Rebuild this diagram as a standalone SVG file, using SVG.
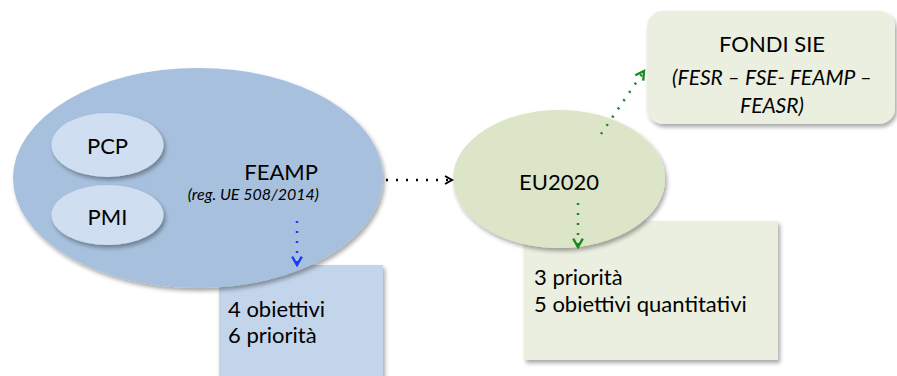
<svg xmlns="http://www.w3.org/2000/svg" width="897" height="376" viewBox="0 0 897 376">
<defs>
<filter id="sh" x="-10%" y="-10%" width="125%" height="130%">
<feGaussianBlur in="SourceAlpha" stdDeviation="2"/>
<feOffset dx="2" dy="3" result="b"/>
<feComponentTransfer><feFuncA type="linear" slope="0.35"/></feComponentTransfer>
<feMerge><feMergeNode/><feMergeNode in="SourceGraphic"/></feMerge>
</filter>
<marker id="ak" viewBox="0 0 10 10" refX="8" refY="5" markerWidth="10" markerHeight="10" markerUnits="userSpaceOnUse" orient="auto"><path d="M1,1 L8,5 L1,9" fill="none" stroke="#000" stroke-width="2"/></marker>
<marker id="ab" viewBox="0 0 10 10" refX="8" refY="5" markerWidth="12" markerHeight="12" markerUnits="userSpaceOnUse" orient="auto"><path d="M1,1 L8,5 L1,9" fill="none" stroke="#1a3cff" stroke-width="2"/></marker>
<marker id="ag" viewBox="0 0 10 10" refX="8" refY="5" markerWidth="12" markerHeight="12" markerUnits="userSpaceOnUse" orient="auto"><path d="M1,1 L8,5 L1,9" fill="none" stroke="#1a8a1a" stroke-width="2"/></marker>
</defs>
<style>
text{font-family:"Lato","Open Sans",sans-serif;fill:#000}
.t22{font-size:22px}
.it{font-style:italic}
.dot{fill:none;stroke-width:2.5;stroke-dasharray:2 8;stroke-linecap:butt}
</style>
<g id="box-feamp"><rect x="219" y="265" width="164" height="115" fill="#c3d5ea" filter="url(#sh)"/>
<text class="t22" x="228" y="317">4 obiettivi</text>
<text class="t22" x="228" y="343">6 priorità</text></g>
<g id="box-eu2020"><rect x="524" y="221" width="254" height="139" fill="#ebefe0" filter="url(#sh)"/>
<text class="t22" x="534" y="285">3 priorità</text>
<text class="t22" x="534" y="312">5 obiettivi quantitativi</text></g>
<g id="feamp"><ellipse cx="198" cy="178" rx="185" ry="110" fill="#a7c0dd" filter="url(#sh)"/>
<text class="t22" x="318" y="180" text-anchor="end">FEAMP</text>
<text class="it" font-size="16" x="319" y="200" text-anchor="end">(reg. UE 508/2014)</text></g>
<g id="pcp"><ellipse cx="107.5" cy="145" rx="56" ry="32" fill="#cfdef0" filter="url(#sh)"/>
<text class="t22" x="107.5" y="154" text-anchor="middle">PCP</text></g>
<g id="pmi"><ellipse cx="107.5" cy="215" rx="56" ry="30" fill="#cfdef0" filter="url(#sh)"/>
<text class="t22" x="107.5" y="225" text-anchor="middle">PMI</text></g>
<g id="eu2020"><ellipse cx="559" cy="179" rx="106" ry="69" fill="#dde5c8" filter="url(#sh)"/>
<text class="t22" x="559" y="190" text-anchor="middle">EU2020</text></g>
<g id="fondi"><rect x="647" y="11" width="248" height="113" rx="16" fill="#ebefe0" filter="url(#sh)"/>
<text class="t22" x="772" y="52" text-anchor="middle">FONDI SIE</text>
<text class="it" font-size="21" x="772" y="85" text-anchor="middle">(FESR – FSE- FEAMP –</text>
<text class="it" font-size="21" x="772" y="113" text-anchor="middle">FEASR)</text></g>
<g id="connectors">
<line class="dot" x1="386" y1="180" x2="452" y2="180" stroke="#000" marker-end="url(#ak)"/>
<line class="dot" x1="297" y1="221" x2="297" y2="265" stroke="#1a3cff" marker-end="url(#ab)"/>
<line class="dot" x1="578" y1="203" x2="578" y2="247" stroke="#1a8a1a" marker-end="url(#ag)"/>
<line class="dot" x1="601" y1="134" x2="644" y2="71" stroke="#1a8a1a" marker-end="url(#ag)"/>
</g>
</svg>
